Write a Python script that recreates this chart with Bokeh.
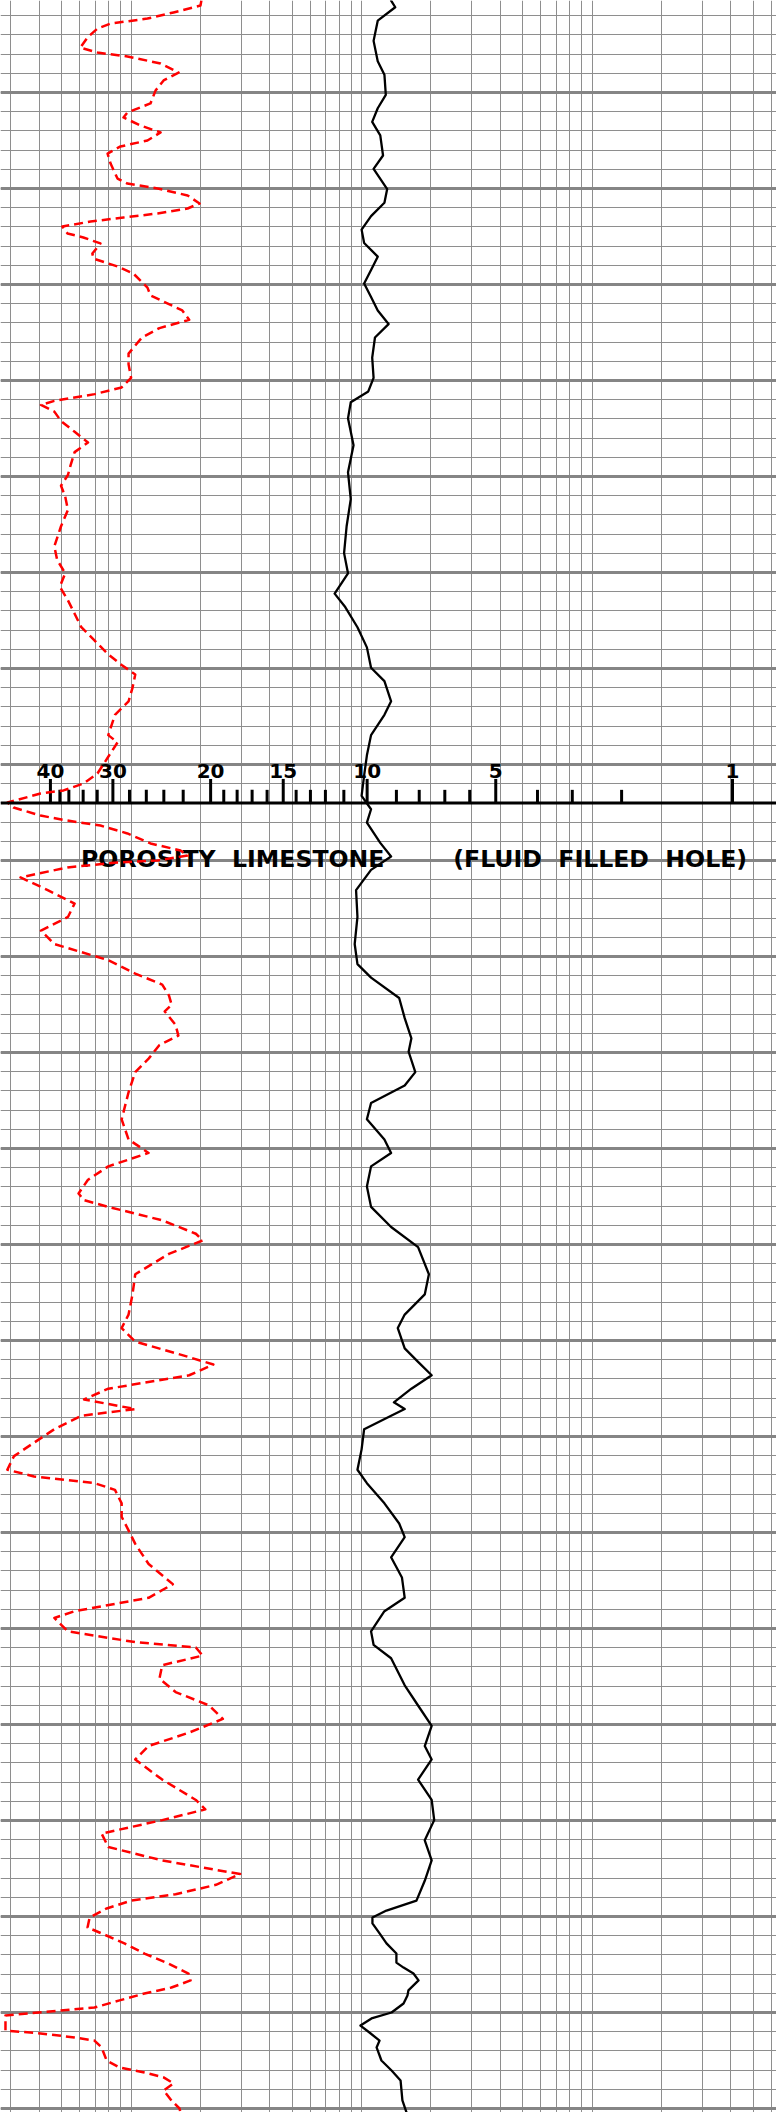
import numpy as np
from bokeh.plotting import figure
from bokeh.models import Range1d, FixedTicker, Span
from bokeh.core.properties import value
from bokeh.embed import file_html
from bokeh.resources import INLINE

# Depth is in chart divisions (thin grid line every division, heavy every 5).
# Horizontal readings are log10 of the log-paper value (decades).

por_major = ["40", "30", "20", "15", "10", "5", "1"]
por_major_log = [-0.350, -0.079, 0.345, 0.660, 1.024, 1.582, 2.609]
por_minor = [38, 36, 34, 32, 28, 26, 24, 22, 19, 18, 17, 16, 14, 13, 12, 11, 9, 8, 7, 6, 4, 3, 2]
por_minor_log = [-0.309, -0.270, -0.208, -0.147, -0.007, 0.066, 0.142, 0.226, 0.402, 0.460,
                 0.525, 0.590, 0.716, 0.778, 0.843, 0.923, 1.151, 1.250, 1.361, 1.469,
                 1.763, 1.914, 2.128]
axis_depth = 42.0

black_depth = [0.21, 0.56, 1.26, 2.31, 3.37, 4.07, 5.12, 5.82, 6.53, 7.23,
               8.28, 8.98, 10.03, 10.74, 11.44, 12.14, 12.84, 13.55, 14.25, 14.95,
               15.65, 16.35, 17.06, 17.76, 18.81, 19.86, 20.57, 21.13, 21.97, 23.37,
               24.78, 26.18, 27.59, 28.99, 30.04, 31.10, 31.80, 32.85, 33.90, 34.96,
               35.66, 36.71, 37.41, 38.47, 39.52, 40.57, 41.63, 42.33, 43.03, 44.08,
               44.79, 45.49, 46.54, 47.94, 49.35, 50.40, 51.10, 52.16, 53.21, 54.26,
               54.96, 56.02, 56.72, 57.63, 58.48, 59.53, 60.23, 60.93, 61.98, 63.04,
               64.09, 65.14, 66.55, 67.60, 68.65, 69.35, 70.41, 71.11, 71.81, 72.51,
               73.22, 73.57, 73.92, 74.62, 75.67, 76.73, 77.43, 78.48, 79.53, 80.24,
               81.29, 82.34, 83.40, 84.10, 85.15, 85.85, 86.55, 87.96, 89.01, 90.07,
               91.12, 91.82, 92.87, 93.93, 94.98, 96.03, 97.08, 98.14,
               99.17, 99.69, 100.05, 100.36, 100.88, 101.40, 101.93, 102.40, 102.66, 102.97,
               103.33, 103.85, 104.11, 104.53, 105.00, 105.31, 105.68, 106.04, 106.46, 106.82,
               107.50, 108.02, 108.54, 109.06, 109.58, 110.21]
black_log = [1.128, 1.146, 1.070, 1.052, 1.070, 1.099, 1.105, 1.070, 1.046, 1.081,
             1.093, 1.052, 1.111, 1.099, 1.041, 1.000, 1.011, 1.070, 1.041, 1.011,
             1.041, 1.070, 1.117, 1.058, 1.046, 1.052, 1.029, 0.953, 0.941, 0.965,
             0.941, 0.953, 0.935, 0.924, 0.941, 0.883, 0.929, 0.982, 1.023, 1.041,
             1.099, 1.128, 1.099, 1.041, 1.023, 1.011, 1.000, 1.041, 1.023, 1.081,
             1.128, 1.041, 0.976, 0.982, 0.970, 0.982, 1.041, 1.163, 1.187, 1.216,
             1.204, 1.233, 1.187, 1.041, 1.023, 1.099, 1.128, 1.041, 1.023, 1.041,
             1.128, 1.245, 1.292, 1.274, 1.187, 1.157, 1.187, 1.245, 1.304, 1.216,
             1.140, 1.187, 1.128, 1.011, 1.000, 0.982, 1.023, 1.099, 1.163, 1.187,
             1.128, 1.175, 1.187, 1.099, 1.041, 1.052, 1.128, 1.187, 1.245, 1.304,
             1.274, 1.304, 1.245, 1.304, 1.315, 1.274, 1.304, 1.274,
             1.238, 1.108, 1.047, 1.047, 1.078, 1.108, 1.151, 1.151, 1.182, 1.225,
             1.247, 1.203, 1.199, 1.182, 1.130, 1.043, 0.995, 1.034, 1.078, 1.065,
             1.086, 1.130, 1.169, 1.173, 1.177, 1.195]

red_depth = [0.20, 0.47, 0.83, 1.15, 1.41, 1.67, 2.13, 2.66, 2.92, 3.12, 3.49,
             3.96, 4.37, 4.90, 5.57, 6.04, 6.30, 6.72, 7.08, 7.50, 7.81,
             8.18, 8.70, 9.48, 9.74, 10.00, 10.36, 10.78, 11.04, 11.30, 11.51,
             11.72, 11.98, 12.34, 12.55, 12.86, 13.39, 13.65, 14.06, 14.43, 15.16,
             15.57,
             16.35, 16.84, 17.27, 17.76, 18.18, 18.60, 19.16, 19.86, 20.36, 20.71,
             21.06, 21.27, 21.62, 22.11, 22.67, 23.23, 23.73, 24.43, 24.92, 25.48,
             26.04, 26.74, 27.59, 28.64, 29.34, 30.04, 30.74, 31.45, 32.15, 32.85,
             33.55, 34.26, 34.82, 35.31, 36.01, 36.71, 37.41, 38.47,
             38.85, 40.47, 40.99, 41.35, 41.51, 41.98, 42.24, 42.66, 42.92, 43.18,
             43.59, 44.11, 44.48, 44.74, 45.00, 45.10, 45.36, 45.88,
             46.54, 47.24, 47.94, 48.65, 49.35, 50.19, 50.89, 51.46, 52.02, 52.51,
             52.86, 53.56, 54.12, 54.61, 55.32, 56.02, 57.07, 58.48, 59.53, 60.23,
             60.93, 61.63, 62.34, 62.69, 63.04, 63.74, 64.44, 64.79, 65.49, 66.55,
             67.60, 68.65, 69.35, 70.06, 70.76, 71.25, 71.81, 72.51, 73.07, 73.57,
             73.92, 74.62, 75.32, 76.02, 76.73, 77.08, 77.43, 77.78, 78.48, 79.18,
             79.89, 80.59, 81.64, 82.69, 83.40, 84.10, 84.45, 85.15, 85.71, 85.99,
             86.41, 86.91, 87.61, 88.31, 89.01, 89.71, 90.42, 91.12, 91.82, 92.87,
             93.93, 94.42, 94.98, 95.68, 96.38, 97.08, 97.79, 98.35, 98.84,
             99.17, 99.58, 100.05, 100.57, 100.88, 101.40, 101.93, 102.45, 102.97, 103.33,
             103.70, 104.01, 104.37, 104.74, 104.90, 105.16, 105.94, 106.09, 106.30, 106.46,
             106.82, 107.50, 107.86, 108.12, 108.38, 108.69, 109.06, 109.58, 110.00, 110.25]
red_log = [0.305, 0.301, 0.184, 0.071, -0.089, -0.146, -0.189, -0.220, -0.146, -0.016, 0.128,
           0.206, 0.141, 0.106, 0.084, -0.016, -0.033, 0.041, 0.128, 0.071, -0.046,
           -0.102, -0.089, -0.059, -0.016, 0.115, 0.245, 0.297, 0.245, 0.115, -0.033,
           -0.176, -0.298, -0.276, -0.207, -0.133, -0.168, -0.163, -0.059, 0.010, 0.071,
           0.084,
           0.222, 0.252, 0.123, 0.047, 0.018, -0.011, -0.011, 0.000, -0.041, -0.158,
           -0.333, -0.391, -0.333, -0.304, -0.245, -0.187, -0.245, -0.263, -0.274, -0.304,
           -0.286, -0.274, -0.304, -0.333, -0.321, -0.286, -0.309, -0.274, -0.245, -0.216,
           -0.158, -0.099, -0.041, 0.018, 0.006, -0.011, -0.070, -0.099,
           -0.059, -0.146, -0.207, -0.293, -0.393, -0.536, -0.510, -0.393, -0.276, -0.133,
           -0.016, 0.084, 0.214, 0.245, 0.115, -0.059, -0.276, -0.480,
           -0.362, -0.245, -0.274, -0.391, -0.333, -0.099, 0.018, 0.135, 0.164, 0.176,
           0.146, 0.193, 0.205, 0.123, 0.076, 0.018, -0.011, -0.041, -0.011, 0.076,
           -0.099, -0.187, -0.228, -0.204, -0.099, 0.135, 0.281, 0.310, 0.164, 0.018,
           0.006, -0.011, -0.041, 0.018, 0.222, 0.357, 0.252, -0.099, -0.204, 0.018,
           -0.216, -0.333, -0.421, -0.508, -0.537, -0.421, -0.158, -0.070, -0.041, -0.041,
           -0.011, 0.018, 0.076, 0.181, 0.076, -0.245, -0.333, -0.274, 0.018, 0.281,
           0.310, 0.135, 0.123, 0.193, 0.339, 0.398, 0.252, 0.076, 0.018, 0.135,
           0.281, 0.322, 0.135, -0.128, -0.099, 0.135, 0.473, 0.368, 0.193,
           0.002, -0.106, -0.180, -0.189, -0.128, -0.029, 0.058, 0.162, 0.249, 0.258,
           0.175, 0.058, -0.050, -0.159, -0.311, -0.545, -0.545, -0.393, -0.246, -0.159,
           -0.128, -0.106, -0.050, 0.058, 0.141, 0.184, 0.141, 0.175, 0.210, 0.215]

# captions (the wide word gaps of the original are kept with a no-break space)
caption_left = "POROSITY\u00a0 LIMESTONE"
caption_right = "(FLUID\u00a0 FILLED\u00a0 HOLE)"

dec = lambda a: (10.0 ** np.asarray(a, dtype=float)).tolist()

grid_x = [k * 10.0 ** n for n in range(-1, 3) for k in range(1, 10)]
grid_major_y = list(range(0, 115, 5))
grid_minor_y = list(range(0, 115))

p = figure(width=776, height=2112, x_axis_type="log",
           x_range=Range1d(10 ** -0.5666, 10 ** 2.800),
           y_range=Range1d(110.208, 0.208),
           output_backend="svg", toolbar_location=None, min_border=0)
p.outline_line_color = None
p.background_fill_color = "white"
p.xaxis.visible = False
p.yaxis.visible = False
p.xaxis.ticker = FixedTicker(ticks=grid_x)
p.yaxis.ticker = FixedTicker(ticks=grid_major_y, minor_ticks=grid_minor_y)
p.xgrid.grid_line_color = "#8e8e8e"
p.xgrid.grid_line_width = 1
p.ygrid.grid_line_color = "#858585"
p.ygrid.grid_line_width = 3
p.ygrid.minor_grid_line_color = "#8e8e8e"
p.ygrid.minor_grid_line_width = 1

# captions
p.text(x=dec([0.441, 2.035]), y=[44.91, 44.91], text=[caption_left, caption_right],
       text_font=value("DejaVu Sans"), text_font_style="bold",
       text_font_size=value("23.6px"), text_align="center",
       text_baseline="alphabetic", text_color="black")

# porosity scale
p.add_layout(Span(location=axis_depth, dimension="width", line_color="black", line_width=3))
p.segment(x0=dec(por_major_log), y0=[axis_depth] * len(por_major_log),
          x1=dec(por_major_log), y1=[axis_depth - 1.25] * len(por_major_log),
          line_color="black", line_width=3)
p.segment(x0=dec(por_minor_log), y0=[axis_depth] * len(por_minor_log),
          x1=dec(por_minor_log), y1=[axis_depth - 0.68] * len(por_minor_log),
          line_color="black", line_width=3)
p.text(x=dec(por_major_log), y=[40.36] * len(por_major_log), text=por_major,
       text_font=value("DejaVu Sans"), text_font_style="bold",
       text_font_size=value("20px"), text_align="center",
       text_baseline="alphabetic", text_color="black")

# curves
p.line(dec(red_log), red_depth, line_color="red", line_width=2.5, line_dash="9 5",
       line_join="round")
p.line(dec(black_log), black_depth, line_color="black", line_width=2.3,
       line_join="round", line_cap="round")

open("out.html", "w").write(file_html(p, INLINE))
